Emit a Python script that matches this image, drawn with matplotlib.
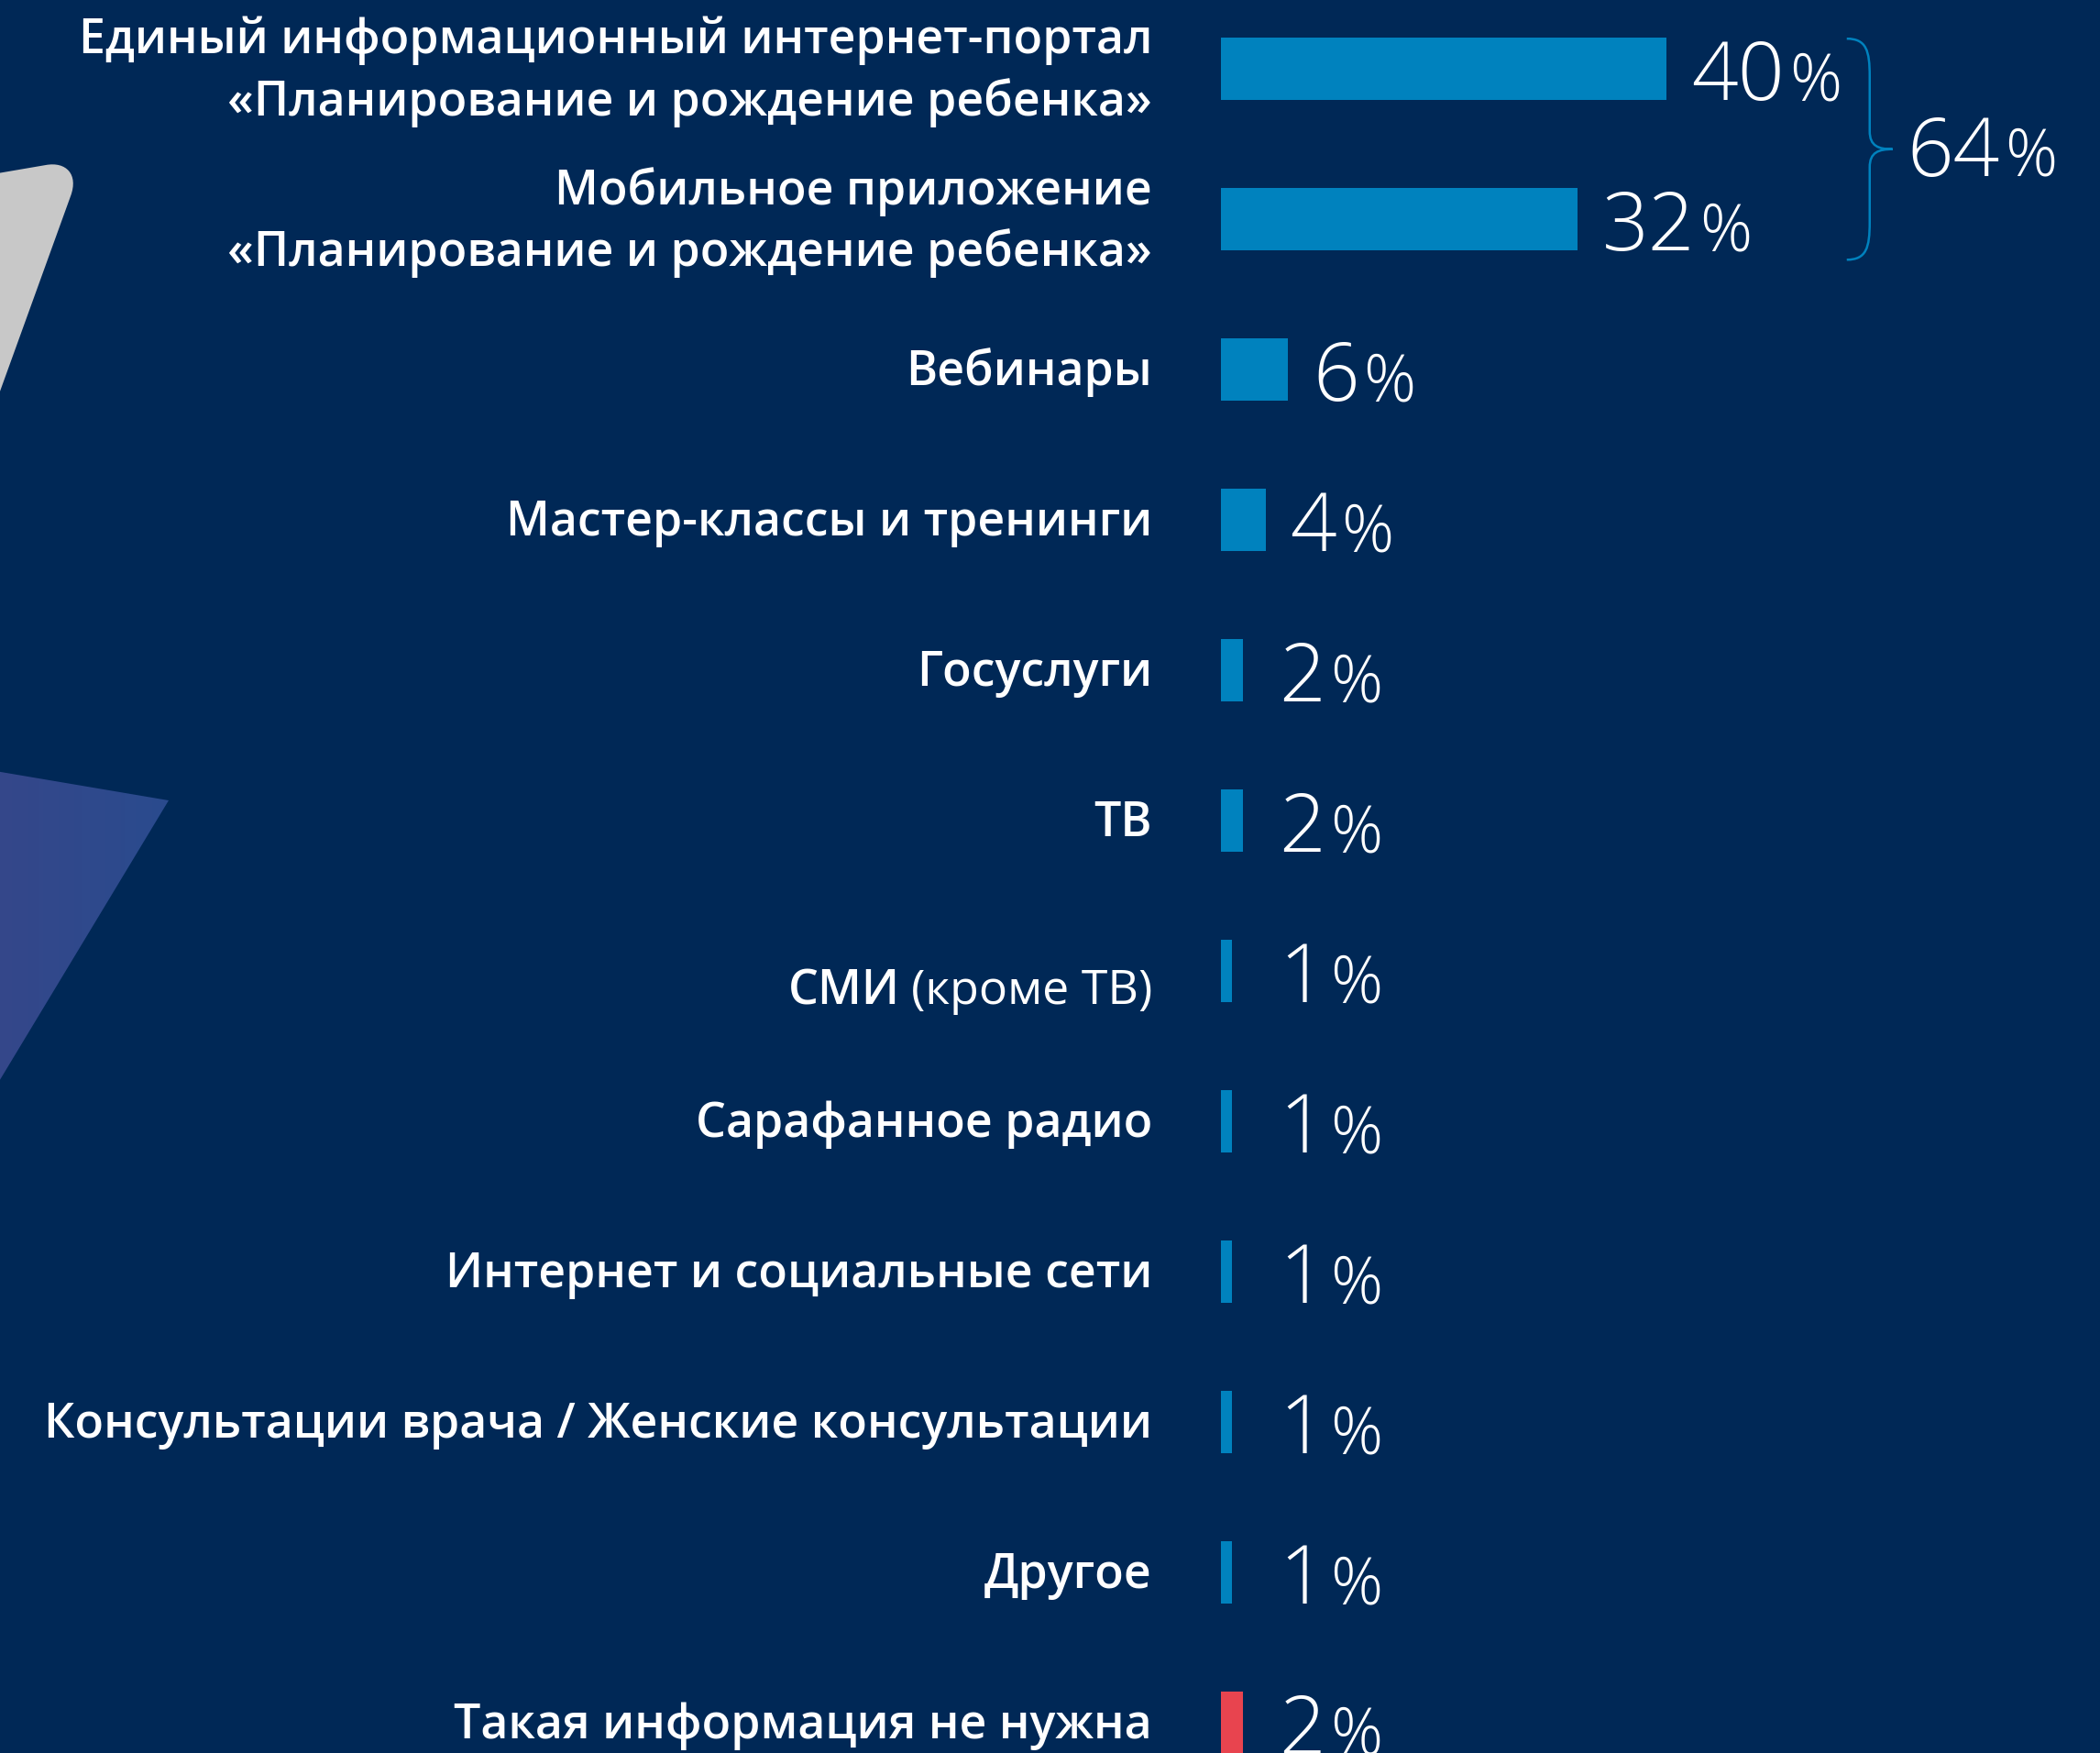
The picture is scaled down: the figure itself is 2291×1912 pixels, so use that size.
import numpy as np
import matplotlib.pyplot as plt
from matplotlib.path import Path
from matplotlib.patches import PathPatch, Polygon
from matplotlib.colors import LinearSegmentedColormap

# data
labels = [
    "Единый информационный интернет-портал\n«Планирование и рождение ребенка»",
    "Мобильное приложение\n«Планирование и рождение ребенка»",
    "Вебинары",
    "Мастер-классы и тренинги",
    "Госуслуги",
    "ТВ",
    "СМИ",
    "Сарафанное радио",
    "Интернет и социальные сети",
    "Консультации врача / Женские консультации",
    "Другое",
    "Такая информация не нужна",
]
notes = ["", "", "", "", "", "", "(кроме ТВ)", "", "", "", "", ""]
values = [40, 32, 6, 4, 2, 2, 1, 1, 1, 1, 1, 2]
combined = 64  # share of portal + app together

BG = "#002856"
BLUE = "#0082BE"
RED = "#E8444F"
colors = [BLUE] * (len(values) - 1) + [RED]

W, H = 2291, 1912
fig = plt.figure(figsize=(W / 100, H / 100), dpi=100)
fig.patch.set_facecolor(BG)

# background decoration (pixel coords, y down)
bg = fig.add_axes([0, 0, 1, 1])
bg.set_xlim(0, W)
bg.set_ylim(H, 0)
bg.axis("off")

gray_path = Path(
    [(-20, 192), (50, 180), (72, 176), (86, 190), (77, 214), (-12, 460), (-20, 192)],
    [Path.MOVETO, Path.LINETO, Path.CURVE4, Path.CURVE4, Path.CURVE4, Path.LINETO, Path.CLOSEPOLY],
)
bg.add_patch(PathPatch(gray_path, facecolor="#C8C8C8", edgecolor="none"))

tri = Polygon([(-5, 841), (184, 873), (-5, 1186)], closed=True, facecolor="none", edgecolor="none")
bg.add_patch(tri)
grad = LinearSegmentedColormap.from_list("g", ["#35478A", "#2A4B8E"])
im = bg.imshow(np.linspace(0, 1, 64)[None, :], cmap=grad, aspect="auto",
               extent=(-5, 184, 1186, 841), zorder=1)
im.set_clip_path(tri)
bg.set_xlim(0, W)
bg.set_ylim(H, 0)

# bar axes
px_per_unit = 12.15
x0 = 1332
row_px = 164
top_px = 75
ax = fig.add_axes([x0 / W, 0, 1 - x0 / W, 1])
ax.set_xlim(0, (W - x0) / px_per_unit)
ax.set_ylim((H - top_px) / row_px, -top_px / row_px)
ax.axis("off")

ypos = np.arange(len(values))
ax.barh(ypos, values, height=0.41, color=colors)

label_fs = 37.4
num_fs = 64
pct_fs = 51
lab_font = ["Open Sans", "DejaVu Sans"]
num_font = ["Open Sans", "DejaVu Sans"]

lab_x = -75 / px_per_unit
note_texts = {}
for i, (lab, note) in enumerate(zip(labels, notes)):
    if note:
        note_texts[i] = ax.text(lab_x, i + 0.22, note, ha="right", va="baseline",
                                color="white", fontsize=label_fs, family=lab_font,
                                fontweight="normal", clip_on=False)
    else:
        ax.text(lab_x, i + 0.02, lab, ha="right", va="center", color="white",
                fontsize=label_fs, family=lab_font, fontweight="semibold",
                linespacing=1.33, clip_on=False)

num_texts = []
for i, v in enumerate(values):
    tx = max(v, 3) + 27 / px_per_unit
    t = ax.text(tx, i + 0.21, f"{v}", ha="left", va="baseline", color="white",
                fontsize=num_fs, family=num_font, fontweight="light", clip_on=False)
    num_texts.append(t)

fig.canvas.draw()
r = fig.canvas.get_renderer()
inv = ax.transData.inverted()


def right_edge(t):
    bb = t.get_window_extent(r)
    return inv.transform((bb.x1, bb.y0))[0]


def left_edge(t):
    bb = t.get_window_extent(r)
    return inv.transform((bb.x0, bb.y0))[0]


for i, t in note_texts.items():
    ax.text(left_edge(t) - 12 / px_per_unit, i + 0.22, labels[i], ha="right", va="baseline",
            color="white", fontsize=label_fs, family=lab_font, fontweight="semibold", clip_on=False)

pct_texts = []
for i, t in enumerate(num_texts):
    p = ax.text(right_edge(t) + 5 / px_per_unit, i + 0.21, "%", ha="left", va="baseline",
                color="white", fontsize=pct_fs, family=num_font, fontweight="light", clip_on=False)
    pct_texts.append(p)

fig.canvas.draw()

# brace for the first two bars
x_a = max(right_edge(pct_texts[0]), right_edge(pct_texts[1])) + 6 / px_per_unit
x_m = x_a + 25 / px_per_unit
x_t = x_a + 50 / px_per_unit
y_top = 0 - 0.2
y_bot = 1 + 0.27
y_mid = (y_top + y_bot) / 2
brace = Path(
    [(x_a, y_top), (x_m - 0.3, y_top), (x_m, y_top + 0.08), (x_m, y_top + 0.25),
     (x_m, y_mid - 0.12), (x_m, y_mid - 0.02), (x_m + 0.8, y_mid), (x_t, y_mid),
     (x_m + 0.8, y_mid), (x_m, y_mid + 0.02), (x_m, y_mid + 0.12),
     (x_m, y_bot - 0.25), (x_m, y_bot - 0.08), (x_m - 0.3, y_bot), (x_a, y_bot)],
    [Path.MOVETO, Path.CURVE4, Path.CURVE4, Path.CURVE4,
     Path.LINETO, Path.CURVE4, Path.CURVE4, Path.CURVE4,
     Path.CURVE4, Path.CURVE4, Path.CURVE4,
     Path.LINETO, Path.CURVE4, Path.CURVE4, Path.CURVE4],
)
ax.add_patch(PathPatch(brace, facecolor="none", edgecolor=BLUE, lw=1.8, clip_on=False))

c = ax.text(x_t + 16 / px_per_unit, y_mid + 29 / row_px, f"{combined}", ha="left",
            va="baseline", color="white", fontsize=num_fs, family=num_font,
            fontweight="light", clip_on=False)
fig.canvas.draw()
ax.text(right_edge(c) + 5 / px_per_unit, y_mid + 29 / row_px, "%", ha="left", va="baseline",
        color="white", fontsize=pct_fs, family=num_font, fontweight="light", clip_on=False)

fig.savefig("out.png", dpi=100, facecolor=BG)
